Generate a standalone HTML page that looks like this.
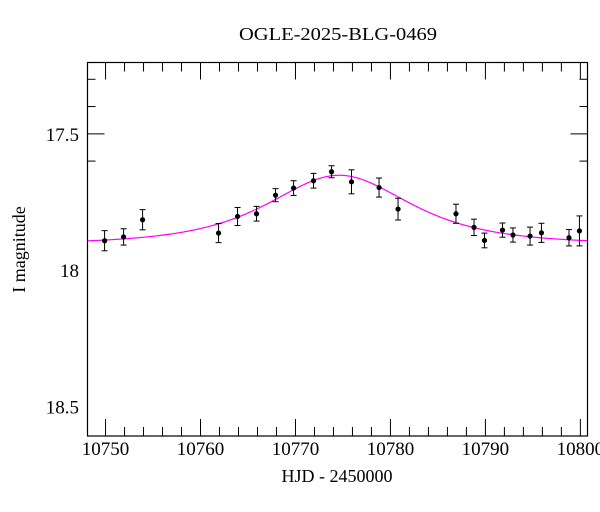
<!DOCTYPE html>
<html><head><meta charset="utf-8">
<style>
html,body{margin:0;padding:0;background:#fff;}
svg{display:block;font-family:"Liberation Serif","DejaVu Serif",serif;}
</style></head>
<body>
<svg id="chart" width="600" height="512" viewBox="0 0 600 512" xmlns="http://www.w3.org/2000/svg">
<rect x="0" y="0" width="600" height="512" fill="#fff"/>
<text x="338" y="40" font-size="18" text-anchor="middle" textLength="198" lengthAdjust="spacingAndGlyphs">OGLE-2025-BLG-0469</text>
<text x="337" y="482" font-size="18" text-anchor="middle">HJD - 2450000</text>
<text x="0" y="0" font-size="18" text-anchor="middle" transform="translate(25,249.5) rotate(-90)">I magnitude</text>
<g id="ticks"></g>
<path id="model" fill="none" stroke="#ff00ff" stroke-width="1.2"/>
<g id="points"></g>
<rect x="87.5" y="62.5" width="500" height="373.5" fill="none" stroke="#000" stroke-width="1.2"/>
</svg>
<script>
const times = [10749.9,10751.9,10753.9,10761.9,10763.9,10765.9,10767.9,10769.8,10771.9,10773.8,10775.9,10778.8,10780.8,10786.9,10788.8,10789.9,10791.8,10792.9,10794.7,10795.9,10798.8,10799.9];
const mags = [17.892,17.878,17.815,17.864,17.803,17.793,17.725,17.699,17.672,17.639,17.676,17.697,17.776,17.793,17.843,17.891,17.853,17.871,17.875,17.863,17.881,17.856];
const errs = [0.037,0.03,0.037,0.035,0.033,0.027,0.024,0.027,0.027,0.022,0.044,0.035,0.04,0.035,0.03,0.027,0.026,0.026,0.033,0.035,0.03,0.055];
const modelBase = [17.905];
const modelT0 = [10774.6];
const modelU0 = [1.13];
const modelTE = [8.4];
const xTickLabels = [10750,10760,10770,10780,10790,10800];
const yTickLabels = [17.5,18,18.5];

const X0=87.5, X1=587.5, Y0=62.5, Y1=436;
const tMin=10748.1, tMax=10800.75;
const mMin=17.2385, mMax=18.608;
function xs(t){return X0+(t-tMin)/(tMax-tMin)*(X1-X0);}
function ys(m){return Y0+(m-mMin)/(mMax-mMin)*(Y1-Y0);}
const NS="http://www.w3.org/2000/svg";
function mk(tag,attrs,parent){const e=document.createElementNS(NS,tag);for(const k in attrs)e.setAttribute(k,attrs[k]);parent.appendChild(e);return e;}
const tg=document.getElementById('ticks');
// x ticks
for(let t=10750;t<=10800;t+=2){
  const major=(t%10===0);const L=major?17:9;const x=xs(t);
  const a=mk('line',{x1:x,x2:x,y1:Y1,y2:Y1-L,stroke:'#000','stroke-width':1},tg);
  
  
  const b=mk('line',{x1:x,x2:x,y1:Y0,y2:Y0+L,stroke:'#000','stroke-width':1},tg);
  
  
}
xTickLabels.forEach(v=>{
  const e=mk('text',{x:xs(v),y:455,'font-size':19,'text-anchor':'middle'},tg);
  e.textContent=String(v);
  
  
});
// y ticks
for(let i=3;i<=16;i++){
  const m=i/10+16.0; const major=(i%5===0); const L=major?17:8; const y=ys(m);
  if(y<Y0||y>Y1) continue;
  const a=mk('line',{x1:X0,x2:X0+L,y1:y,y2:y,stroke:'#000','stroke-width':1},tg);
  
  
  const b=mk('line',{x1:X1,x2:X1-L,y1:y,y2:y,stroke:'#000','stroke-width':1},tg);
  
  
}
yTickLabels.forEach(v=>{
  const e=mk('text',{x:79,y:ys(v)+7,'font-size':19,'text-anchor':'end'},tg);
  e.textContent=String(v);
  
  
});
// model
let d='';
for(let t=tMin;t<=tMax;t+=0.1){
  const tau=(t-modelT0[0])/modelTE[0];const u=Math.sqrt(modelU0[0]*modelU0[0]+tau*tau);
  const A=(u*u+2)/(u*Math.sqrt(u*u+4));
  const m=modelBase[0]-2.5*Math.log10(A);
  d+=(d?'L':'M')+xs(t).toFixed(2)+' '+ys(m).toFixed(2);
}
document.getElementById('model').setAttribute('d',d);
// points
const pg=document.getElementById('points');
times.forEach((t,i)=>{
  const x=xs(t),y=ys(mags[i]),y1=ys(mags[i]-errs[i]),y2=ys(mags[i]+errs[i]);
  const g=mk('g',{},pg);
  
  
  mk('line',{x1:x,x2:x,y1:y1,y2:y2,stroke:'#000','stroke-width':1},g);
  mk('line',{x1:x-3,x2:x+3,y1:y1,y2:y1,stroke:'#000','stroke-width':1},g);
  mk('line',{x1:x-3,x2:x+3,y1:y2,y2:y2,stroke:'#000','stroke-width':1},g);
  mk('circle',{cx:x,cy:y,r:2.6,fill:'#000'},g);
});
</script>
</body></html>
